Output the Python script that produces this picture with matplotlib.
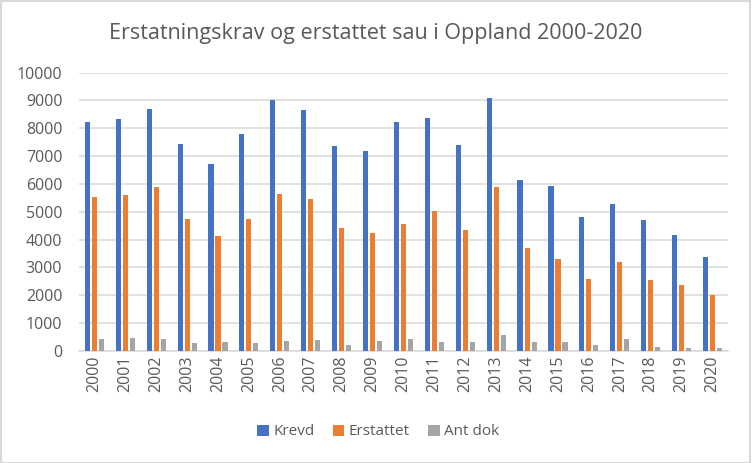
import numpy as np
import matplotlib
matplotlib.use("Agg")
from matplotlib import pyplot as plt
from matplotlib.patches import Rectangle

years = [str(y) for y in range(2000, 2021)]
krevd = [8230, 8340, 8700, 7440, 6720, 7800, 9020, 8660, 7370, 7190,
         8230, 8370, 7400, 9090, 6140, 5920, 4810, 5280, 4700, 4160, 3370]
erstattet = [5530, 5600, 5890, 4740, 4130, 4740, 5640, 5460, 4410, 4230,
             4560, 5030, 4340, 5890, 3690, 3300, 2580, 3190, 2540, 2360, 2000]
ant_dok = [420, 470, 420, 280, 310, 280, 350, 390, 200, 350,
           420, 310, 310, 560, 310, 310, 200, 420, 130, 100, 100]

plt.rcParams['font.family'] = ['Open Sans', 'DejaVu Sans']
txt = '#595959'

fig = plt.figure(figsize=(7.52, 4.63), dpi=100)
ax = fig.add_axes([0.105, 0.2425, 0.863, 0.6005])

x = np.arange(len(years))
w = 0.165
off = 0.227
ax.bar(x - off, krevd, w, color='#4472c4', label='Krevd', zorder=3)
ax.bar(x, erstattet, w, color='#ed7d31', label='Erstattet', zorder=3)
ax.bar(x + off, ant_dok, w, color='#a5a5a5', label='Ant dok', zorder=3)

ax.set_xlim(-0.5, len(years) - 0.5)
ax.set_ylim(0, 10000)
ax.set_yticks(range(0, 10001, 1000))
ax.yaxis.grid(True, color='#d9d9d9', linewidth=1.1, zorder=0)
for s in ['top', 'right', 'left']:
    ax.spines[s].set_visible(False)
ax.spines['bottom'].set_color('#d9d9d9')
ax.spines['bottom'].set_linewidth(1.1)
ax.tick_params(axis='both', length=0, colors=txt, labelsize=11.5)
ax.tick_params(axis='y', pad=12)
ax.set_xticks(x)
ax.set_xticklabels(years, rotation=90)

fig.suptitle('Erstatningskrav og erstattet sau i Oppland 2000-2020',
             color=txt, fontsize=15.5, y=0.95)

ax.legend(loc='center', bbox_to_anchor=(0.503, 0.067), bbox_transform=fig.transFigure,
          ncol=3, frameon=False, fontsize=11, labelcolor=txt,
          handlelength=0.75, handleheight=0.75, handletextpad=0.3, columnspacing=1.2)

fig.patches.append(Rectangle((0.001, 0.001), 0.997, 0.996, transform=fig.transFigure,
                             fill=False, edgecolor='#d9d9d9', linewidth=1.5))

fig.savefig('out.png', dpi=100)
